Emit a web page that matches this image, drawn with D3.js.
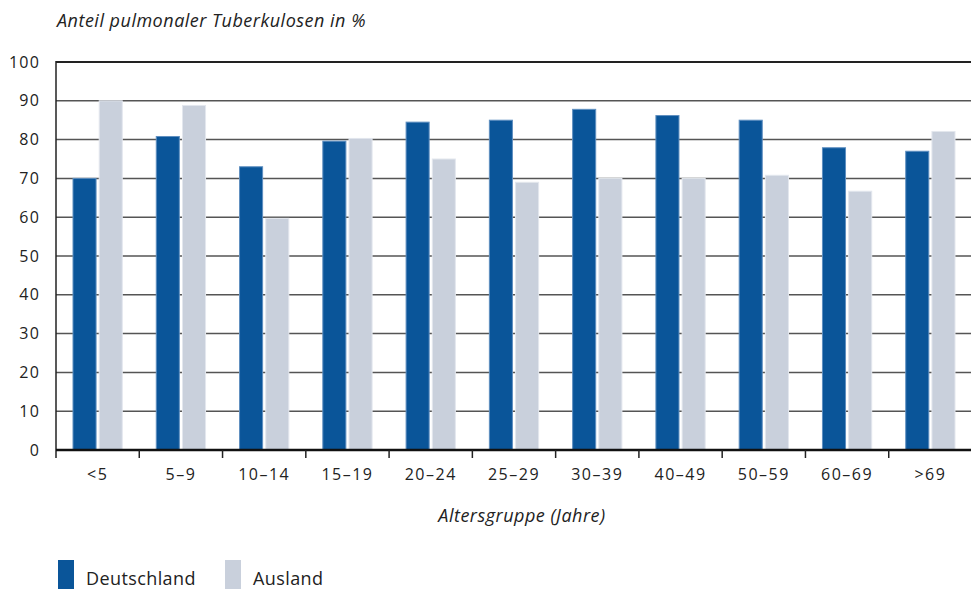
<!DOCTYPE html>
<html lang="de">
<head>
<meta charset="UTF-8">
<title>Anteil pulmonaler Tuberkulosen</title>
<script src="https://cdnjs.cloudflare.com/ajax/libs/d3/7.8.5/d3.min.js"></script>
<style>
  body { margin: 0; background: #fff; }
  svg { display: block; font-family: "Open Sans", "DejaVu Sans", sans-serif; }
  text { fill: #222; }
</style>
</head>
<body>
<svg width="971" height="589"></svg>
<script>
// Altersgruppen und Werte (in %)
var groups = ["<5", "5–9", "10–14", "15–19", "20–24", "25–29", "30–39", "40–49", "50–59", "60–69", ">69"];
var deutschland = [70, 80.8, 73, 79.6, 84.5, 85, 87.8, 86.2, 85, 77.9, 77];
var ausland = [90, 88.8, 59.7, 80.3, 75, 69, 70, 70, 70.8, 66.7, 82.1];
var yTicks = [0, 10, 20, 30, 40, 50, 60, 70, 80, 90, 100];
var seriesNames = ["Deutschland", "Ausland"];
var colors = ["#0a5599", "#c9d0dc"];
var strokes = ["#5f8fc0", "#e3e7ee"];

var svg = d3.select("svg");
var plotLeft = 56, plotRight = 972, plotTop = 62, plotBottom = 450;

var x = d3.scaleBand().domain(groups).range([plotLeft, plotRight]);
var inner = d3.scaleBand().domain(seriesNames).range([17, x.bandwidth() - 17]).paddingInner(0.12);
var y = d3.scaleLinear().domain([0, 100]).range([plotBottom, plotTop]);

// gridlines
svg.append("g")
  .selectAll("line")
  .data(yTicks.filter(function (d) { return d > 0; }))
  .enter()
  .append("line")
    .attr("x1", plotLeft).attr("x2", plotRight)
    .attr("y1", function (d) { return y(d); })
    .attr("y2", function (d) { return y(d); })
    .attr("stroke", function (d) { return d === 100 ? "#222" : "#555"; })
    .attr("stroke-width", function (d) { return d === 100 ? 2 : 1.5; });

// bars
var series = [deutschland, ausland];
series.forEach(function (vals, s) {
  svg.append("g")
    .selectAll("rect")
    .data(vals)
    .enter()
    .append("rect")
      .attr("x", function (d, i) { return x(groups[i]) + inner(seriesNames[s]); })
      .attr("y", function (d) { return y(d); })
      .attr("width", inner.bandwidth())
      .attr("height", function (d) { return y(0) - y(d); })
      .attr("fill", colors[s])
      .attr("stroke", strokes[s])
      .attr("stroke-width", 1);
});

// y axis
var yAxis = svg.append("g")
  .attr("transform", "translate(" + plotLeft + ",0)")
  .call(d3.axisLeft(y).tickValues(yTicks).tickSize(0).tickPadding(16));
yAxis.attr("font-family", null).attr("font-size", 16);
yAxis.select(".domain").remove();
yAxis.selectAll("text").attr("fill", "#222").attr("letter-spacing", 1.2);
svg.append("line")
  .attr("x1", plotLeft).attr("x2", plotLeft)
  .attr("y1", plotTop - 1).attr("y2", plotBottom + 8)
  .attr("stroke", "#222").attr("stroke-width", 1.5);

// x axis
var xAxis = svg.append("g")
  .attr("transform", "translate(0," + plotBottom + ")")
  .call(d3.axisBottom(x).tickSize(0).tickPadding(19));
xAxis.attr("font-family", null).attr("font-size", 16);
xAxis.select(".domain").remove();
xAxis.selectAll("text").attr("fill", "#222").attr("letter-spacing", 1.5);
svg.append("line")
  .attr("x1", plotLeft).attr("x2", plotRight)
  .attr("y1", plotBottom).attr("y2", plotBottom)
  .attr("stroke", "#111").attr("stroke-width", 2.5);
svg.append("g")
  .selectAll("line")
  .data(groups.slice(1))
  .enter()
  .append("line")
    .attr("x1", function (d) { return x(d); })
    .attr("x2", function (d) { return x(d); })
    .attr("y1", plotBottom).attr("y2", plotBottom + 8)
    .attr("stroke", "#222").attr("stroke-width", 1.5);

// titles
svg.append("text")
  .attr("x", 57).attr("y", 27)
  .attr("font-size", 18).attr("font-style", "italic")
  .attr("letter-spacing", 0.5)
  .text("Anteil pulmonaler Tuberkulosen in %");
svg.append("text")
  .attr("x", (plotLeft + plotRight) / 2 + 8).attr("y", 522)
  .attr("text-anchor", "middle")
  .attr("font-size", 18).attr("font-style", "italic")
  .attr("letter-spacing", 0.5)
  .text("Altersgruppe (Jahre)");

// legend
var legendX = [58, 225];
seriesNames.forEach(function (name, s) {
  svg.append("rect")
    .attr("x", legendX[s]).attr("y", 560)
    .attr("width", 16).attr("height", 29)
    .attr("fill", colors[s]);
  svg.append("text")
    .attr("x", legendX[s] + 28).attr("y", 585)
    .attr("font-size", 18)
    .attr("letter-spacing", 0.4)
    .text(name);
});
</script>
</body>
</html>
